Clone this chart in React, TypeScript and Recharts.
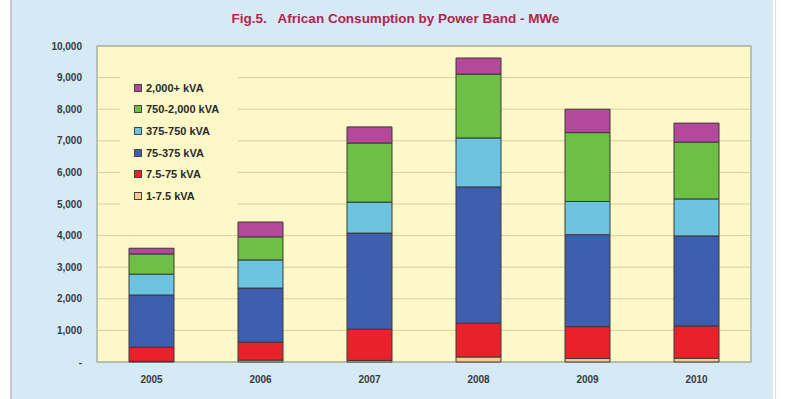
import React from 'react';
import { BarChart, Bar, XAxis, YAxis, CartesianGrid, Legend, ReferenceArea } from 'recharts';

const years = ['2005', '2006', '2007', '2008', '2009', '2010'];
const band1to7_5 = [20, 60, 50, 160, 110, 120];
const band7_5to75 = [450, 570, 990, 1070, 1010, 1020];
const band75to375 = [1650, 1710, 3040, 4310, 2910, 2850];
const band375to750 = [660, 890, 980, 1550, 1050, 1170];
const band750to2000 = [640, 730, 1870, 2020, 2180, 1800];
const band2000plus = [180, 470, 510, 510, 740, 600];
const yTicks = [0, 1000, 2000, 3000, 4000, 5000, 6000, 7000, 8000, 9000, 10000];

const seriesNames = ['1-7.5 kVA', '7.5-75 kVA', '75-375 kVA', '375-750 kVA', '750-2,000 kVA', '2,000+ kVA'];
const seriesValues = [band1to7_5, band7_5to75, band75to375, band375to750, band750to2000, band2000plus];
const seriesColors = ['#f6c98c', '#e8212b', '#3f5fae', '#6cc4e0', '#6dbf45', '#b4489a'];

const data = years.map((y, i) => {
  const row: Record<string, string | number> = { year: y };
  seriesNames.forEach((n, k) => {
    row[n] = seriesValues[k][i];
  });
  return row;
});

const fmt = (v: number) => (v === 0 ? '-' : v.toLocaleString('en-US'));
const FONT = 'Liberation Sans, Arial, sans-serif';

const LegendBox = (props: any) => {
  const payload = props.payload || [];
  const items = [...seriesNames].reverse().map((n) => payload.find((p: any) => p.value === n)).filter(Boolean);
  return (
    <div style={{ background: '#fdf8c8', padding: '5px 0 6px 14px', width: 104 }}>
      {items.map((it: any) => (
        <div key={it.value} style={{ display: 'flex', alignItems: 'center', height: 21.6, fontFamily: FONT, fontWeight: 'bold', fontSize: 11, color: '#2a2a2a' }}>
          <span style={{ display: 'inline-block', width: 6, height: 6, background: it.color, border: '1px solid #444', marginRight: 4 }} />
          {it.value}
        </div>
      ))}
    </div>
  );
};

export default function App() {
  return (
    <div style={{ position: 'absolute', left: 0, top: 0, width: 787, height: 399, background: '#ffffff', overflow: 'hidden' }}>
      <div style={{ position: 'absolute', left: 10, top: 0, width: 2, height: 399, background: '#c8c8c8' }} />
      <div style={{ position: 'absolute', left: 12, top: 0, width: 761, height: 399, background: '#d5eaf5' }} />
      <div style={{ position: 'absolute', left: 775, top: 0, width: 1, height: 399, background: '#dddddd' }} />
      <div style={{ position: 'absolute', left: 0, top: 11, width: 787, textAlign: 'center', paddingLeft: 2, fontFamily: FONT, fontWeight: 'bold', fontSize: 13.5, color: '#b3254c', whiteSpace: 'pre' }}>
        {'Fig.5.   African Consumption by Power Band - MWe'}
      </div>
      <div style={{ position: 'absolute', left: 0, top: 0 }}>
        <BarChart width={787} height={399} data={data} margin={{ top: 46, right: 36, bottom: 7, left: 0 }} barSize={45}>
          <CartesianGrid vertical={false} stroke="#d8cf9e" fill="#fdf8c8" />
          <XAxis dataKey="year" axisLine={false} tickLine={false} height={30} tickMargin={8} tick={{ fontSize: 10, fontWeight: 'bold', fill: '#3a3a3a', fontFamily: FONT }} />
          <YAxis width={97} domain={[0, 10000]} ticks={yTicks} tickFormatter={fmt} axisLine={false} tickLine={false} tickMargin={9} interval={0} tick={{ fontSize: 10, fontWeight: 'bold', fill: '#3a3a3a', fontFamily: FONT }} />
          {seriesNames.map((n, k) => (
            <Bar key={n} dataKey={n} name={n} stackId="a" fill={seriesColors[k]} stroke="#3a3a3a" strokeWidth={1} isAnimationActive={false} />
          ))}
          <ReferenceArea y1={0} y2={10000} fill="none" stroke="#a9b1a8" strokeWidth={1.5} ifOverflow="extendDomain" />
          <Legend layout="vertical" align="center" verticalAlign="middle" content={<LegendBox />} wrapperStyle={{ left: 120, top: 72, width: 118 }} />
        </BarChart>
      </div>
    </div>
  );
}
